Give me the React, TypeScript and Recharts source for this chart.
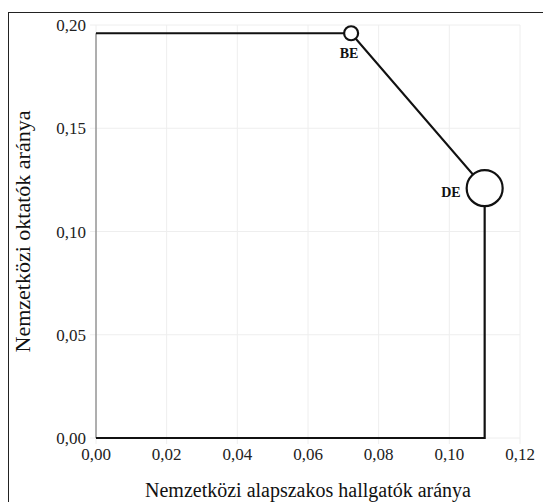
import React from 'react';
import {
  ScatterChart,
  Scatter,
  XAxis,
  YAxis,
  CartesianGrid,
  Label
} from 'recharts';

// frontier path, in drawing order
const pathX = [0, 0.0722, 0.110, 0.110, 0];
const pathY = [0.196, 0.196, 0.121, 0, 0];
const pathNames = ['', 'BE', 'DE', '', ''];

const edgeX = [0, 0];
const edgeY = [0, 0.196];

const xTicks = [0, 0.02, 0.04, 0.06, 0.08, 0.1, 0.12];
const yTicks = [0, 0.05, 0.1, 0.15, 0.2];

const frontier = pathX.map((x, i) => ({ x, y: pathY[i], name: pathNames[i] }));
const edge = edgeX.map((x, i) => ({ x, y: edgeY[i] }));

const FONT = 'Liberation Serif, DejaVu Serif, serif';
const fmt = (v: number) => v.toFixed(2).replace('.', ',');

const markerRadius: Record<string, number> = { BE: 7, DE: 18 };

const PointShape = (props: any) => {
  const { cx, cy, payload } = props;
  const name = payload?.name;
  if (!name) return <g />;
  const r = markerRadius[name];
  return (
    <g>
      <circle cx={cx} cy={cy} r={r} fill="#fff" stroke="#111" strokeWidth={2.2} />
      {name === 'BE' ? (
        <text x={cx - 2} y={cy + 25} textAnchor="middle" fontSize={14} fontWeight="bold" style={{ fontFamily: FONT }} fill="#111">
          {name}
        </text>
      ) : (
        <text x={cx - 24} y={cy + 9} textAnchor="end" fontSize={14} fontWeight="bold" style={{ fontFamily: FONT }} fill="#111">
          {name}
        </text>
      )}
    </g>
  );
};

const tickStyle = { fill: '#222', fontSize: 17, style: { fontFamily: FONT } };

export default function App() {
  return (
    <div
      style={{
        marginTop: 4,
        width: 542,
        height: 489,
        borderTop: '1px solid #222',
        borderLeft: '1px solid #222',
        fontFamily: FONT
      }}
    >
      <ScatterChart
        width={542}
        height={489}
        margin={{ top: 12, right: 31, bottom: 0, left: 0 }}
        style={{ fontFamily: FONT }}
      >
        <CartesianGrid stroke="#eeeeee" />
        <XAxis
          type="number"
          dataKey="x"
          domain={[0, 0.12]}
          ticks={xTicks}
          tickFormatter={fmt}
          axisLine={false}
          tickLine={{ stroke: '#eeeeee' }}
          tickSize={6}
          tickMargin={4}
          height={64}
          tick={tickStyle}
        >
          <Label
            value="Nemzetközi alapszakos hallgatók aránya"
            position="insideBottom"
            offset={5}
            style={{ fill: '#111', fontSize: 20, fontFamily: FONT }}
          />
        </XAxis>
        <YAxis
          type="number"
          dataKey="y"
          domain={[0, 0.2]}
          ticks={yTicks}
          tickFormatter={fmt}
          axisLine={false}
          tickLine={{ stroke: '#eeeeee' }}
          tickSize={6}
          tickMargin={4}
          width={87}
          tick={tickStyle}
        >
          <Label
            value="Nemzetközi oktatók aránya"
            angle={-90}
            position="insideLeft"
            offset={13}
            style={{ fill: '#111', fontSize: 22, fontFamily: FONT, textAnchor: 'middle' }}
          />
        </YAxis>
        <Scatter
          data={edge}
          line={{ stroke: '#666', strokeWidth: 1 }}
          lineType="joint"
          shape={() => <g />}
          isAnimationActive={false}
        />
        <Scatter
          data={frontier}
          line={{ stroke: '#111', strokeWidth: 2.2 }}
          lineType="joint"
          shape={PointShape}
          isAnimationActive={false}
        />
      </ScatterChart>
    </div>
  );
}
